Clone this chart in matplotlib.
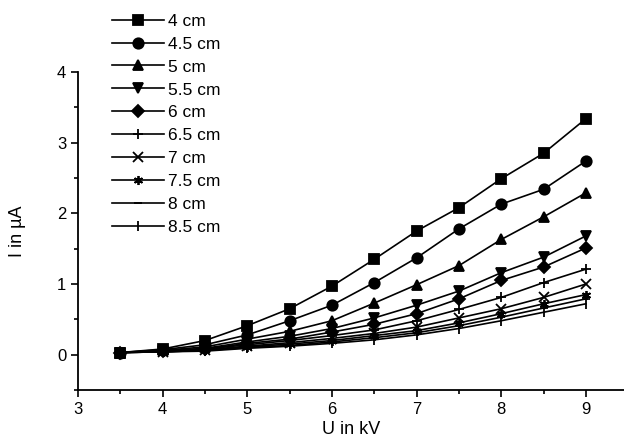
import numpy as np
import matplotlib.pyplot as plt

plt.rcParams['font.family'] = ['Liberation Sans', 'DejaVu Sans']

# voltage in kV
u_kv = [3.5, 4, 4.5, 5, 5.5, 6, 6.5, 7, 7.5, 8, 8.5, 9]

# current in uA for each electrode distance
i_4cm = [0.03, 0.08, 0.20, 0.41, 0.65, 0.97, 1.35, 1.75, 2.08, 2.49, 2.85, 3.34]
i_45cm = [0.03, 0.07, 0.14, 0.28, 0.48, 0.70, 1.02, 1.37, 1.78, 2.13, 2.34, 2.74]
i_5cm = [0.03, 0.06, 0.11, 0.22, 0.33, 0.48, 0.73, 0.99, 1.26, 1.63, 1.95, 2.29]
i_55cm = [0.03, 0.05, 0.09, 0.18, 0.26, 0.37, 0.52, 0.70, 0.90, 1.16, 1.38, 1.68]
i_6cm = [0.03, 0.05, 0.08, 0.16, 0.22, 0.32, 0.43, 0.58, 0.79, 1.05, 1.24, 1.51]
i_65cm = [0.03, 0.05, 0.08, 0.14, 0.20, 0.27, 0.35, 0.48, 0.64, 0.81, 1.02, 1.21]
i_7cm = [0.03, 0.04, 0.07, 0.12, 0.17, 0.23, 0.30, 0.39, 0.52, 0.65, 0.81, 1.00]
i_75cm = [0.03, 0.04, 0.06, 0.11, 0.15, 0.20, 0.27, 0.34, 0.45, 0.58, 0.72, 0.85]
i_8cm = [0.03, 0.04, 0.06, 0.10, 0.13, 0.18, 0.24, 0.31, 0.41, 0.53, 0.66, 0.79]
i_85cm = [0.03, 0.04, 0.05, 0.09, 0.12, 0.16, 0.21, 0.28, 0.37, 0.48, 0.60, 0.72]

labels = ["4 cm", "4.5 cm", "5 cm", "5.5 cm", "6 cm",
          "6.5 cm", "7 cm", "7.5 cm", "8 cm", "8.5 cm"]
series = [i_4cm, i_45cm, i_5cm, i_55cm, i_6cm,
          i_65cm, i_7cm, i_75cm, i_8cm, i_85cm]
markers = ["s", "o", "^", "v", "D", "+", "x", (6, 2, 0), "_", "|"]
sizes = [6.5, 7.5, 7.5, 7.5, 6, 6.5, 6.5, 6.5, 6, 7]

fig = plt.figure(figsize=(6.24, 4.38), dpi=100)
ax = fig.add_axes([0.125, 0.1096, 0.875, 0.726])

for y, lab, m, s in zip(series, labels, markers, sizes):
    ax.plot(u_kv, y, color="black", lw=1.2, marker=m, ms=s,
            mew=1.3, label=lab)

ax.set_xlim(3, 9.45)
ax.set_ylim(-0.5, 4)
ax.set_xticks([3, 4, 5, 6, 7, 8, 9])
ax.set_xticks(np.arange(3.5, 9.5, 1), minor=True)
ax.set_yticks([0, 1, 2, 3, 4])
ax.set_yticks([-0.5, 0.5, 1.5, 2.5, 3.5], minor=True)
ax.spines["top"].set_visible(False)
ax.spines["right"].set_visible(False)
ax.spines["left"].set_bounds(-0.5, 4)
ax.spines["left"].set_linewidth(1.3)
ax.spines["bottom"].set_linewidth(1.3)
ax.tick_params(which="major", length=5, width=1.2, labelsize=12)
ax.tick_params(which="minor", length=3, width=1.2)

ax.set_xlabel("U in kV", fontsize=13, labelpad=3)
ax.set_ylabel("I in \u00b5A", fontsize=13, labelpad=22)

fig.legend(loc="upper left", bbox_to_anchor=(0.163, 0.993), frameon=False,
           fontsize=12.5, handlelength=3.0, handletextpad=0.2,
           labelspacing=0.45, borderaxespad=0.2)

fig.savefig("out.png", dpi=100)
